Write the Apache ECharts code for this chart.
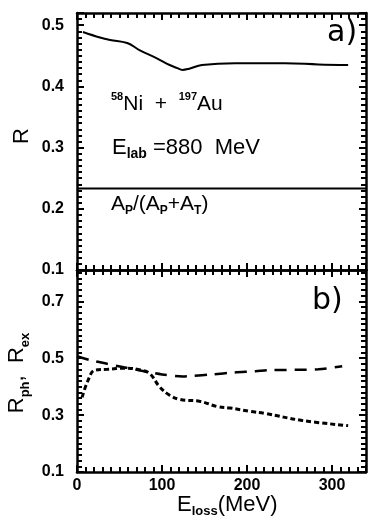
<!DOCTYPE html>
<html>
<head>
<meta charset="utf-8">
<script src="https://cdn.jsdelivr.net/npm/echarts@6/dist/echarts.min.js"></script>
<style>
html, body { margin: 0; padding: 0; background: #fff; }
#chart { width: 370px; height: 519px; }
</style>
</head>
<body>
<div id="chart"></div>
<script>
// panel a) : R against E_loss
var r_e   = [7, 27, 39, 59, 74, 94, 109, 118, 124, 132, 147, 186, 245, 284, 319];
var r_val = [0.489, 0.480, 0.476, 0.471, 0.459, 0.446, 0.435, 0.430, 0.427, 0.429, 0.435, 0.438, 0.438, 0.436, 0.435];
// Ap/(Ap+At) level
var ratio_e   = [0, 340];
var ratio_val = [0.233, 0.233];

// panel b) : long dashes and short dashes
var ex_e   = [0, 16, 33, 55, 79, 100, 124, 135, 159, 185, 210, 225, 284, 312];
var ex_val = [0.507, 0.493, 0.482, 0.468, 0.454, 0.443, 0.436, 0.438, 0.443, 0.450, 0.454, 0.458, 0.461, 0.472];
var ph_e   = [6, 13, 21, 36, 56, 76, 86, 97, 109, 121, 145, 165, 180, 204, 221, 265, 319];
var ph_val = [0.362, 0.422, 0.458, 0.461, 0.465, 0.458, 0.445, 0.40, 0.37, 0.355, 0.348, 0.33, 0.325, 0.313, 0.306, 0.281, 0.263];

var x_ticks = [0, 100, 200, 300];

function pairs(xs, ys) {
    return xs.map(function (x, i) { return [x, ys[i]]; });
}

var chart = echarts.init(document.getElementById('chart'));
var font = 'Liberation Sans';

function xAx(grid, pos, labels) {
    return {
        type: 'value', gridIndex: grid, position: pos,
        min: 0, max: 340, interval: 100,
        axisLine: { show: true, onZero: false, lineStyle: { color: '#000', width: 2.5 } },
        axisTick: { show: true, inside: true, length: 7, lineStyle: { color: '#000', width: 2 } },
        minorTick: { show: true, splitNumber: 10, length: 5, lineStyle: { color: '#000', width: 2 } },
        splitLine: { show: false },
        axisLabel: {
            show: labels, showMaxLabel: false, margin: 6,
            color: '#000', fontFamily: font, fontWeight: 'bold', fontSize: 16,
            formatter: function (v) { return x_ticks.indexOf(v) >= 0 ? String(v) : ''; }
        }
    };
}

function yAx(grid, pos, min, max, interval, labels) {
    return {
        type: 'value', gridIndex: grid, position: pos,
        min: min, max: max, interval: interval,
        axisLine: { show: true, onZero: false, lineStyle: { color: '#000', width: 2.5 } },
        axisTick: { show: true, inside: true, length: 7, lineStyle: { color: '#000', width: 2 } },
        minorTick: { show: true, splitNumber: 10, length: 5, lineStyle: { color: '#000', width: 2 } },
        splitLine: { show: false },
        axisLabel: {
            show: labels, showMaxLabel: false, margin: 13,
            color: '#000', fontFamily: font, fontWeight: 'bold', fontSize: 16,
            formatter: function (v) { return v.toFixed(1); }
        }
    };
}

var option = {
    backgroundColor: '#fff',
    animation: false,
    grid: [
        { left: 77, right: 4, top: 13, height: 257 },
        { left: 77, right: 4, top: 270, height: 202 }
    ],
    xAxis: [
        xAx(0, 'bottom', false),
        xAx(0, 'top', false),
        xAx(1, 'bottom', true),
        xAx(1, 'top', false)
    ],
    yAxis: [
        yAx(0, 'left', 0.1, 0.52, 0.1, true),
        yAx(0, 'right', 0.1, 0.52, 0.1, false),
        yAx(1, 'left', 0.1, 0.81, 0.2, true),
        yAx(1, 'right', 0.1, 0.81, 0.2, false)
    ],
    series: [
        {
            name: 'R', type: 'line', xAxisIndex: 0, yAxisIndex: 0,
            data: pairs(r_e, r_val), smooth: 0.4, symbol: 'none',
            lineStyle: { color: '#000', width: 2 }
        },
        {
            name: 'Ap/(Ap+At)', type: 'line', xAxisIndex: 0, yAxisIndex: 0,
            data: pairs(ratio_e, ratio_val), symbol: 'none',
            lineStyle: { color: '#000', width: 2 }
        },
        {
            name: 'R_ex', type: 'line', xAxisIndex: 2, yAxisIndex: 2,
            data: pairs(ex_e, ex_val), smooth: 0.3, symbol: 'none',
            lineStyle: { color: '#000', width: 2.5, type: [12, 8] }
        },
        {
            name: 'R_ph', type: 'line', xAxisIndex: 2, yAxisIndex: 2,
            data: pairs(ph_e, ph_val), smooth: 0.4, symbol: 'none',
            lineStyle: { color: '#000', width: 3, type: [5, 3] }
        }
    ],
    graphic: [
        {
            type: 'text', left: 327, top: 18,
            style: { text: 'a)', font: '30px "DejaVu Sans"', fill: '#000' }
        },
        {
            type: 'text', left: 312, top: 286,
            style: { text: 'b)', font: '30px "DejaVu Sans"', fill: '#000' }
        },
        {
            type: 'text', left: 111, top: 91,
            style: {
                text: '{s|58}{m|Ni  +  }{s|197}{m|Au}',
                fill: '#000',
                rich: {
                    m: { fontFamily: font, fontSize: 21, lineHeight: 24, verticalAlign: 'bottom' },
                    s: { fontFamily: font, fontSize: 11, fontWeight: 'bold', lineHeight: 12, verticalAlign: 'top' }
                }
            }
        },
        {
            type: 'text', left: 112, top: 137,
            style: {
                text: '{m|E}{b|lab}{m| =880  MeV}',
                fill: '#000',
                rich: {
                    m: { fontFamily: font, fontSize: 22, lineHeight: 24, verticalAlign: 'top' },
                    b: { fontFamily: font, fontSize: 14, fontWeight: 'bold', lineHeight: 14, verticalAlign: 'bottom' }
                }
            }
        },
        {
            type: 'text', left: 111, top: 194,
            style: {
                text: '{m|A}{b|P}{m|/(A}{b|P}{m|+A}{b|T}{m|)}',
                fill: '#000',
                rich: {
                    m: { fontFamily: font, fontSize: 21, lineHeight: 23, verticalAlign: 'top' },
                    b: { fontFamily: font, fontSize: 12, fontWeight: 'bold', lineHeight: 12, verticalAlign: 'bottom' }
                }
            }
        },
        {
            type: 'text', x: 22, y: 136, rotation: Math.PI / 2,
            style: {
                text: 'R', font: '22px "Liberation Sans"', fill: '#000',
                align: 'center', verticalAlign: 'middle', textAlign: 'center', textVerticalAlign: 'middle'
            }
        },
        {
            type: 'text', x: 19, y: 373, rotation: Math.PI / 2,
            style: {
                text: '{m|R}{b|ph}{m|,  R}{b|ex}',
                fill: '#000',
                align: 'center', verticalAlign: 'middle', textAlign: 'center', textVerticalAlign: 'middle',
                rich: {
                    m: { fontFamily: font, fontSize: 22, lineHeight: 26, verticalAlign: 'top' },
                    b: { fontFamily: font, fontSize: 13, fontWeight: 'bold', lineHeight: 14, verticalAlign: 'bottom' }
                }
            }
        },
        {
            type: 'text', left: 177, top: 494,
            style: {
                text: '{m|E}{b|loss}{m|(MeV)}',
                fill: '#000',
                rich: {
                    m: { fontFamily: font, fontSize: 22, lineHeight: 24, verticalAlign: 'top' },
                    b: { fontFamily: font, fontSize: 13, fontWeight: 'bold', lineHeight: 14, verticalAlign: 'bottom' }
                }
            }
        }
    ]
};

chart.setOption(option);
</script>
</body>
</html>
